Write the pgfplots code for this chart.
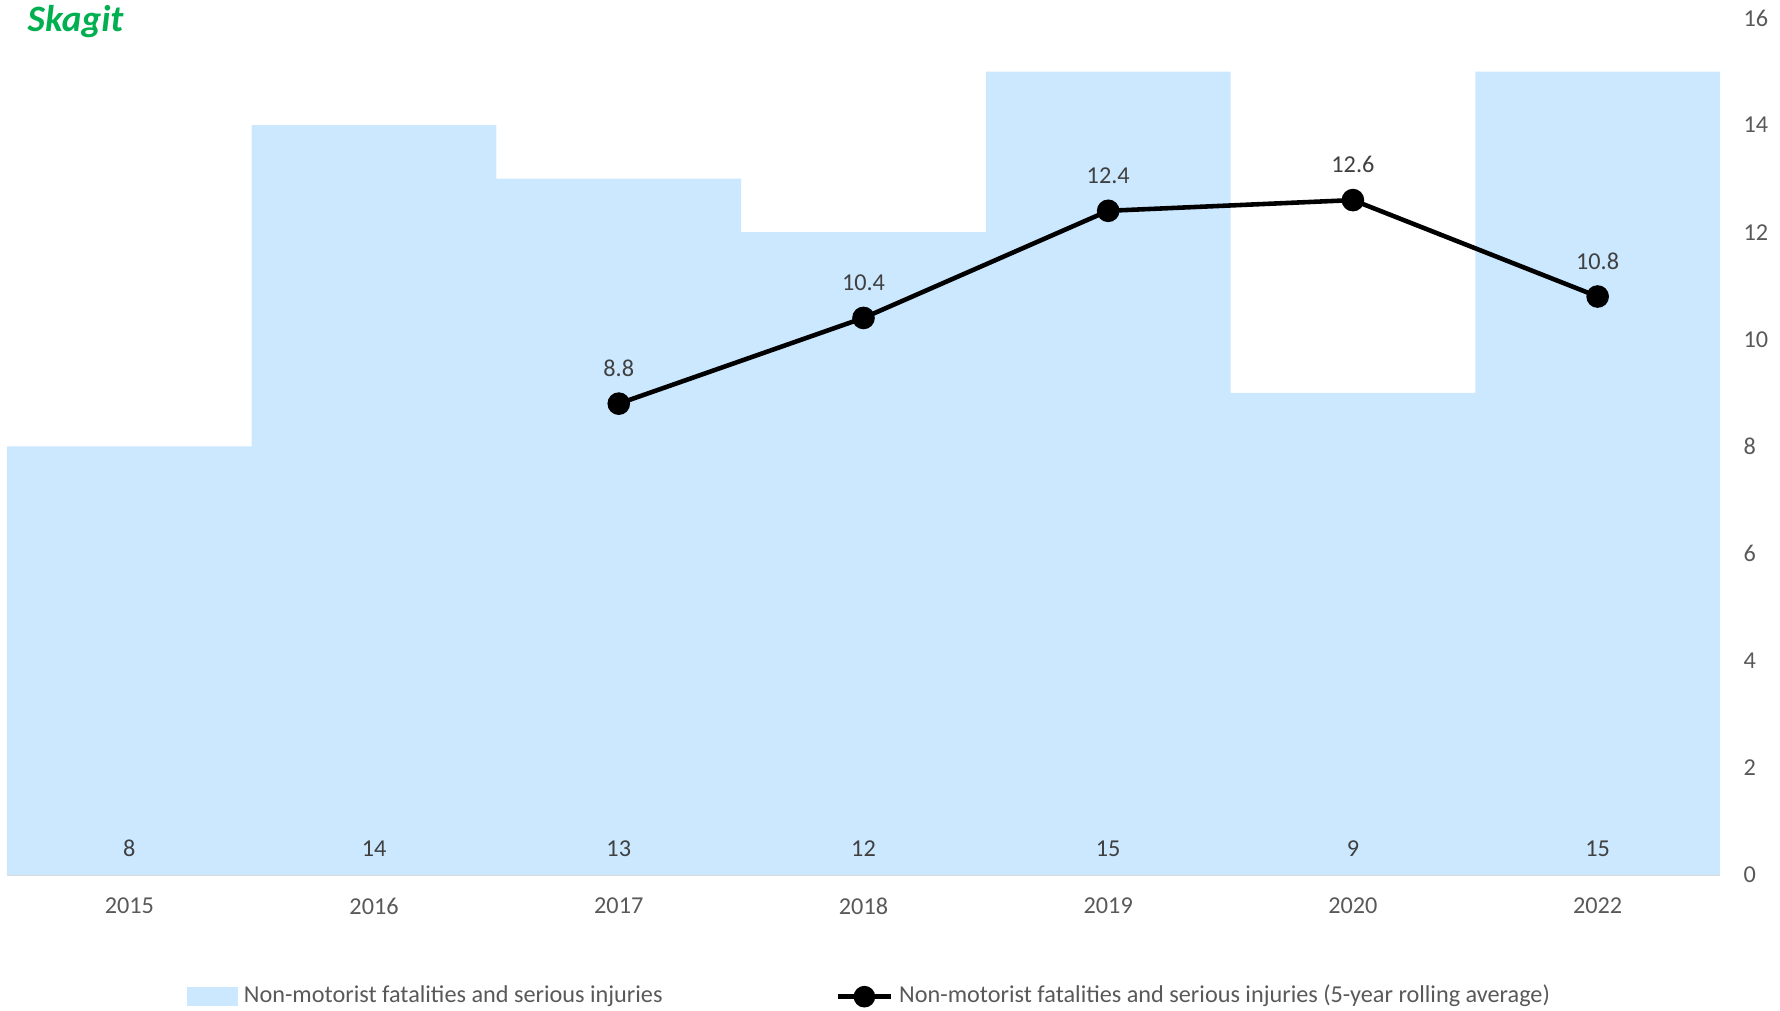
\documentclass[border=0pt]{standalone}
\usepackage{pgfplots}
\pgfplotsset{compat=1.18}
\usepackage{fontspec}
\setmainfont{Carlito}
\definecolor{barblue}{HTML}{CCE8FF}
\definecolor{titlegreen}{HTML}{00B050}
\definecolor{ticklab}{HTML}{595959}
\definecolor{datalab}{HTML}{404040}
\definecolor{axisgray}{HTML}{D9D9D9}
\begin{document}
\begin{tikzpicture}
\useasboundingbox (0,0) rectangle (178mm,101.1mm);
\begin{axis}[
  at={(0.7mm,13.6mm)}, anchor=south west,
  scale only axis, width=171.3mm, height=85.7mm,
  xmin=-0.5, xmax=6.5, ymin=0, ymax=16,
  axis y line*=right, axis x line*=bottom,
  y axis line style={draw=none},
  x axis line style={draw=axisgray, line width=0.6pt},
  major tick length=0pt,
  xtick={0,...,6},
  xticklabels={2015,2016,2017,2018,2019,2020,2022},
  ytick={0,2,...,16},
  /pgf/number format/assume math mode=true,
  tick label style={font=\fontsize{6.9}{8.3}\selectfont, text=ticklab},
  xticklabel style={anchor=center, inner sep=0pt, yshift=-3.1mm},
  yticklabel style={anchor=west, inner sep=0pt, xshift=2.3mm},
  legend columns=2,
  legend style={at={(rel axis cs:0.105,-0.142)}, anchor=west, draw=none, fill=none,
    inner sep=0pt, outer sep=0pt,
    font=\fontsize{6.9}{8.3}\selectfont, text=ticklab,
    /tikz/every even column/.append style={column sep=16.7mm},
    nodes={inner sep=0.6mm}},
  legend cell align=left,
  clip=false,
]
\addplot[ybar, bar width=1, fill=barblue, draw=none,
  legend image code/.code={\fill[barblue] (0mm,-0.95mm) rectangle (5.1mm,0.95mm);}]
  coordinates {(0,8) (1,14) (2,13) (3,12) (4,15) (5,9) (6,15)};
\addlegendentry{Non-motorist fatalities and serious injuries}
\addplot[black, line width=1.3pt, mark=*, mark size=0.9mm,
  nodes near coords,
  every node near coord/.append style={font=\fontsize{6.9}{8.3}\selectfont, text=datalab, anchor=south, inner sep=0pt, yshift=2.5mm},
  legend image code/.code={\draw[black, line width=1.3pt] (0mm,0mm) -- (5.3mm,0mm); \fill[black] (2.65mm,0mm) circle (0.85mm);}]
  coordinates {(2,8.8) (3,10.4) (4,12.4) (5,12.6) (6,10.8)};
\addlegendentry{Non-motorist fatalities and serious injuries (5-year rolling average)}
\addplot[draw=none, mark=none, forget plot,
  nodes near coords, point meta=explicit symbolic,
  every node near coord/.append style={font=\fontsize{6.9}{8.3}\selectfont, text=datalab, anchor=center, inner sep=0pt}]
  coordinates {(0,0.49)[8] (1,0.49)[14] (2,0.49)[13] (3,0.49)[12] (4,0.49)[15] (5,0.49)[9] (6,0.49)[15]};
\end{axis}
\node[anchor=base west, inner sep=0pt, text=titlegreen, font=\fontsize{10.6}{12}\selectfont\bfseries\itshape] at (2.7mm,97.9mm) {Skagit};
\end{tikzpicture}
\end{document}
